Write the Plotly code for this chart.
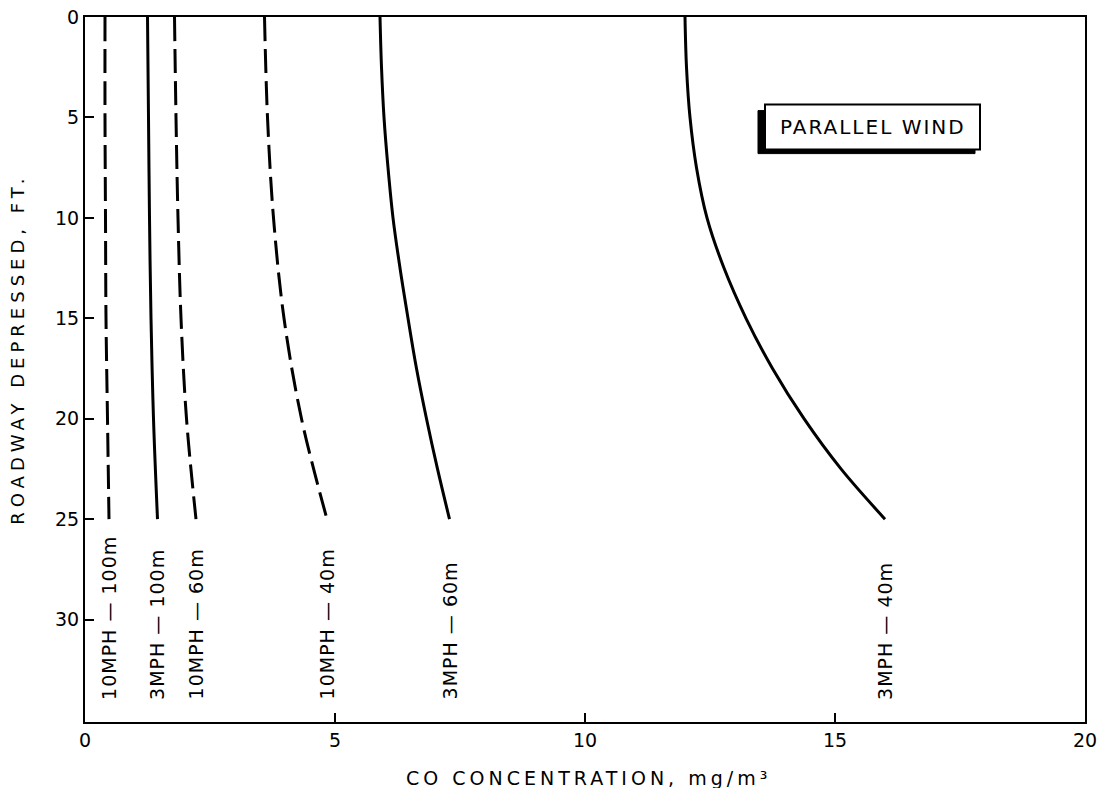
import plotly.graph_objects as go

# ---- data ----
depth = [0, 5, 10, 15, 20, 25]
depth_fine = [0, 2.5, 5, 7.5, 10, 12.5, 15, 17.5, 20, 22.5, 25]
c_10mph_100m = [0.40, 0.40, 0.41, 0.42, 0.45, 0.48]
c_3mph_100m = [1.25, 1.27, 1.29, 1.32, 1.37, 1.45]
c_10mph_60m = [1.79, 1.82, 1.86, 1.92, 2.03, 2.22]
c_10mph_40m = [3.59, 3.65, 3.77, 3.98, 4.33, 4.84]
c_3mph_60m = [5.90, 5.93, 5.98, 6.06, 6.16, 6.30, 6.46, 6.63, 6.83, 7.05, 7.29]
c_3mph_40m = [12.0, 12.03, 12.10, 12.23, 12.44, 12.78, 13.22, 13.75, 14.38, 15.12, 16.0]

series_names = ["10MPH — 100m", "3MPH — 100m", "10MPH — 60m",
                "10MPH — 40m", "3MPH — 60m", "3MPH — 40m"]
series_x = [c_10mph_100m, c_3mph_100m, c_10mph_60m, c_10mph_40m, c_3mph_60m, c_3mph_40m]
series_y = [depth, depth, depth, depth, depth_fine, depth_fine]
series_dash = ["dashed", "solid", "dashed", "dashed", "solid", "solid"]

x_ticks = [0, 5, 10, 15, 20]
y_ticks = [0, 5, 10, 15, 20, 25, 30]
label_depth = 34.1
box_text = "PARALLEL WIND"
x_title = "CO CONCENTRATION, mg/m³"
y_title = "ROADWAY DEPRESSED, FT."

FONT = "DejaVu Sans"


def spaced(t, px):
    return '<span style="letter-spacing:%dpx">%s</span>' % (px, t)


fig = go.Figure()
for name, xs, ys, ds in zip(series_names, series_x, series_y, series_dash):
    fig.add_trace(go.Scatter(
        x=xs, y=ys, mode="lines", name=name,
        line=dict(color="black", width=3, shape="spline", smoothing=1.0,
                  dash="24px,8px" if ds == "dashed" else "solid"),
        showlegend=False, hoverinfo="skip"))
    fig.add_annotation(x=xs[-1], y=label_depth, xref="x", yref="y",
                       text=spaced(name, 1), textangle=-90, showarrow=False,
                       xanchor="center", yanchor="bottom",
                       font=dict(family=FONT, size=19, color="black"))

# "PARALLEL WIND" box with a shadow on left/bottom
L, R, T, B = 765, 980, 105, 150


def px2p(px, py):
    return (px - 85) / 1000, (722 - py) / 704.5


x0, y0 = px2p(L, B)
x1, y1 = px2p(R, T)
sx0, sy0 = px2p(L - 7, B + 4)
sx1, sy1 = px2p(R - 5, T + 6)
fig.add_shape(type="rect", xref="paper", yref="paper", x0=sx0, y0=sy0, x1=sx1, y1=sy1,
              fillcolor="black", line=dict(color="black", width=1), layer="above")
fig.add_shape(type="rect", xref="paper", yref="paper", x0=x0, y0=y0, x1=x1, y1=y1,
              fillcolor="white", line=dict(color="black", width=2), layer="above")
fig.add_annotation(x=(x0 + x1) / 2, y=(y0 + y1) / 2, xref="paper", yref="paper",
                   text=spaced(box_text, 2), showarrow=False, xanchor="center", yanchor="middle",
                   font=dict(family=FONT, size=20, color="black"))

# axis titles
tx, ty = px2p(588, 778)
fig.add_annotation(x=tx, y=ty, xref="paper", yref="paper",
                   text=spaced(x_title, 4), showarrow=False, xanchor="center", yanchor="middle",
                   font=dict(family=FONT, size=19, color="black"))
ax_, ay_ = px2p(18, 350)
fig.add_annotation(x=ax_, y=ay_, xref="paper", yref="paper",
                   text=spaced(y_title, 5), textangle=-90, showarrow=False,
                   xanchor="center", yanchor="middle",
                   font=dict(family=FONT, size=18, color="black"))

axis_common = dict(showgrid=False, zeroline=False, showline=True, linecolor="black",
                   linewidth=2, mirror=True, ticks="inside", ticklen=9, tickwidth=2,
                   tickcolor="black", automargin=False,
                   tickfont=dict(family=FONT, size=19, color="black"))

fig.update_layout(
    width=1104, height=788,
    margin=dict(l=85, r=19, t=17, b=66),
    paper_bgcolor="white", plot_bgcolor="white",
    xaxis=dict(range=[0, 20], tickvals=x_ticks, **axis_common),
    yaxis=dict(range=[35.1, 0], tickvals=y_ticks, **axis_common),
)

fig.write_html("out.html")
